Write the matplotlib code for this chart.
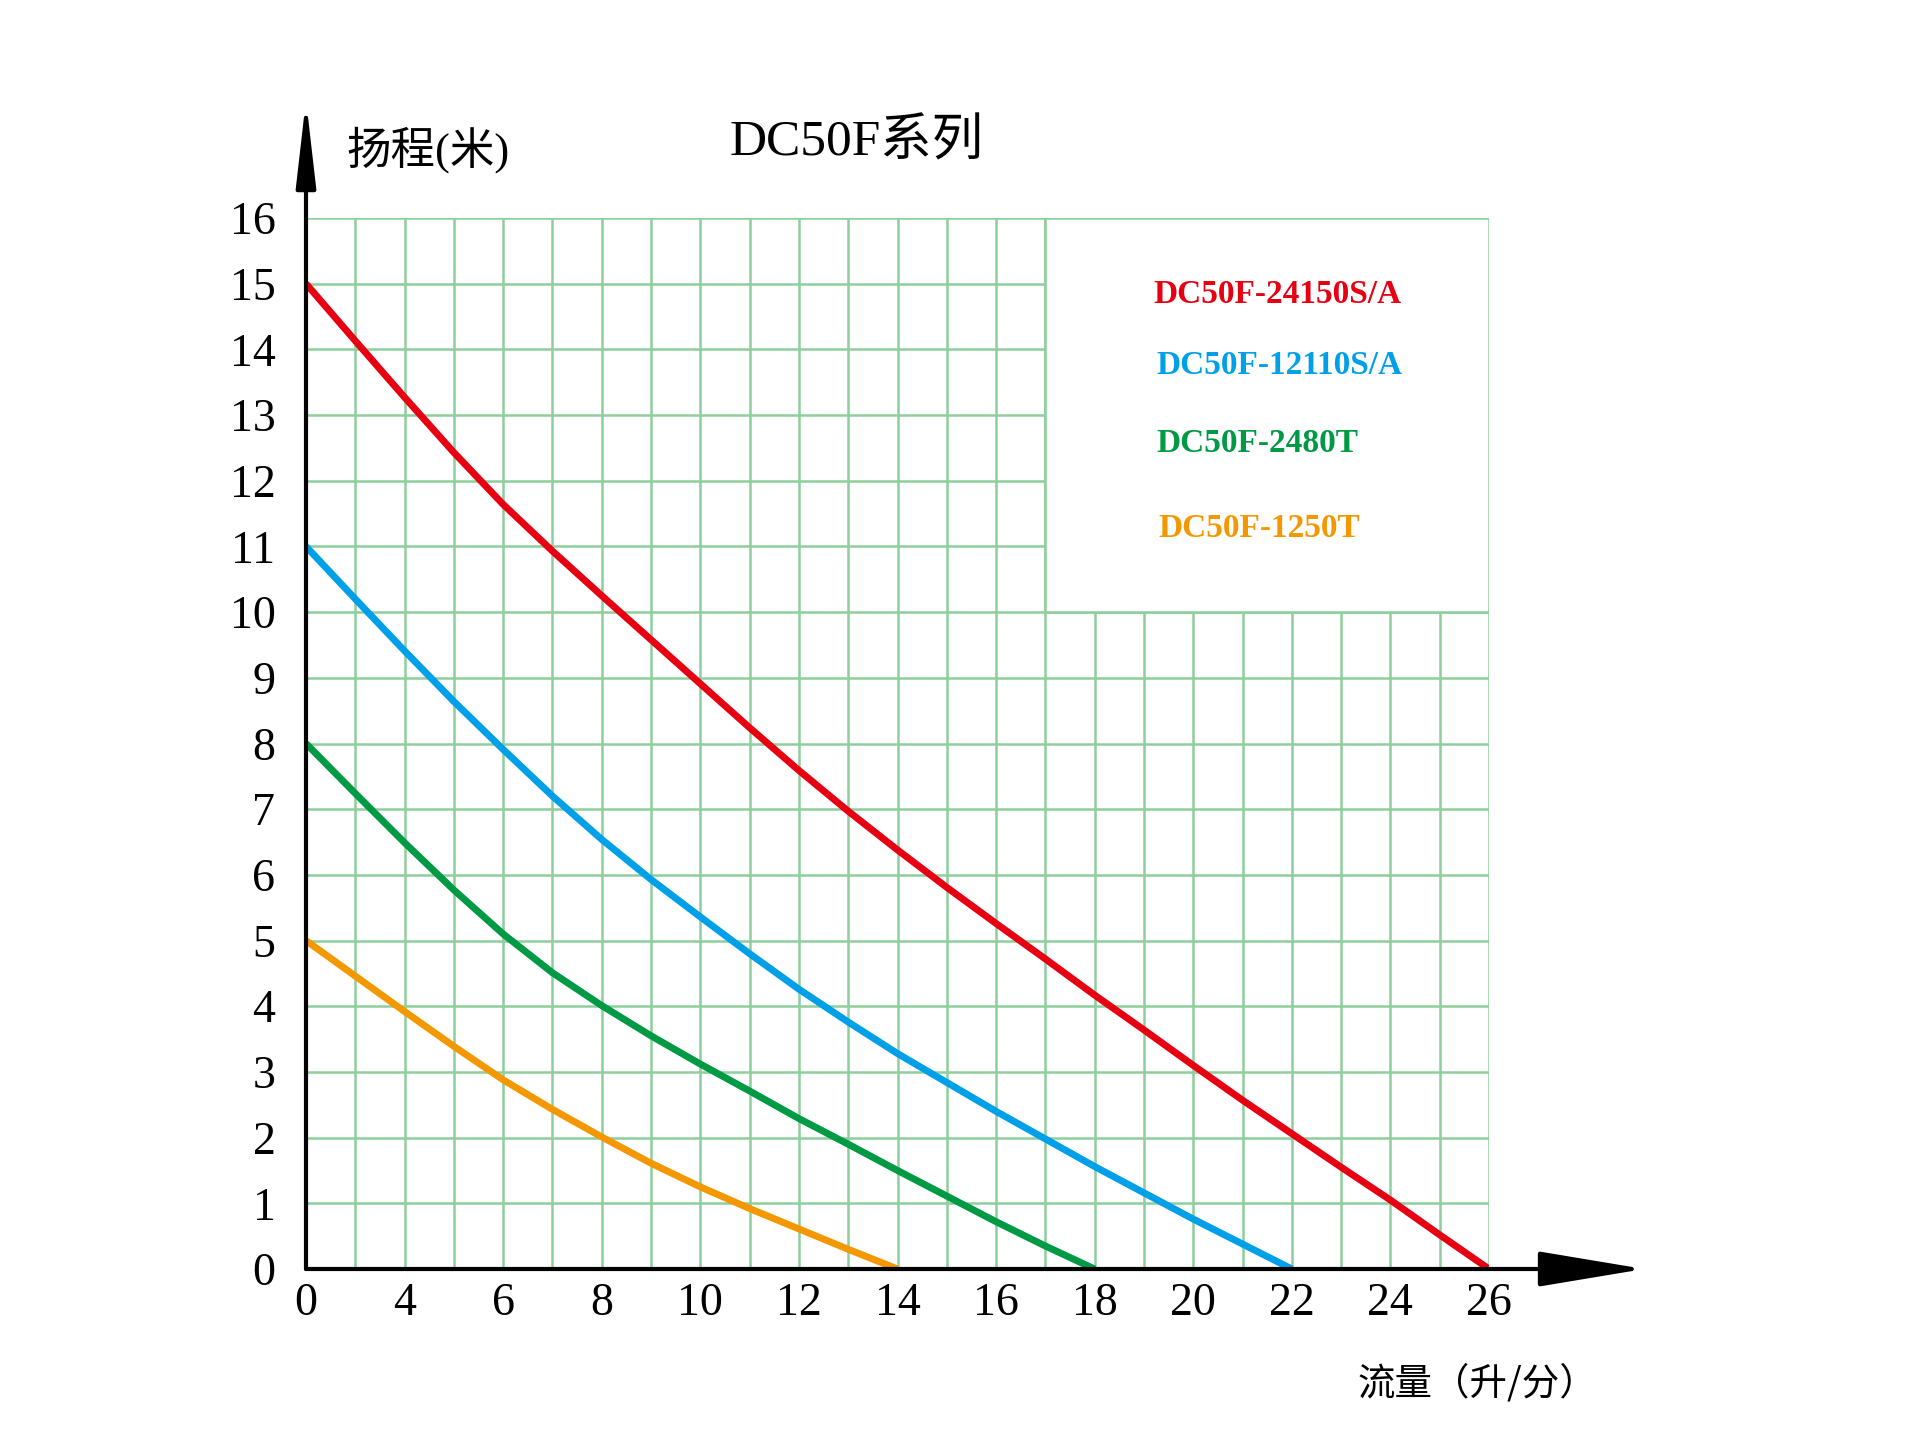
import matplotlib

matplotlib.use("Agg")
import matplotlib.pyplot as plt
from matplotlib.patches import Rectangle

plt.rcParams["font.family"] = ["Liberation Serif", "Noto Sans CJK SC", "DejaVu Sans"]

# The printed flow axis is irregular: the first grid line is labelled "0",
# the next labelled one "4", then every 2 up to 26. Flow values below use
# the printed scale, with the "0" column sitting at position 2.
X_TICKS = [2, 4, 6, 8, 10, 12, 14, 16, 18, 20, 22, 24, 26]
X_TICK_LABELS = ["0", "4", "6", "8", "10", "12", "14", "16", "18", "20", "22", "24", "26"]
Y_TICKS = list(range(0, 17))

SERIES_NAMES = ["DC50F-24150S/A", "DC50F-12110S/A", "DC50F-2480T", "DC50F-1250T"]
SERIES_COLORS = ["#e60012", "#00a0e9", "#009944", "#f39800"]

FLOW_24150 = list(range(2, 27))
HEAD_24150 = [15.0, 14.13, 13.27, 12.43, 11.64, 10.93, 10.25, 9.58, 8.91, 8.24,
              7.59, 6.97, 6.38, 5.81, 5.26, 4.72, 4.17, 3.64, 3.10, 2.57,
              2.06, 1.55, 1.05, 0.52, 0.0]

FLOW_12110 = list(range(2, 23))
HEAD_12110 = [11.0, 10.20, 9.41, 8.64, 7.91, 7.20, 6.54, 5.93, 5.36, 4.80,
              4.26, 3.76, 3.28, 2.84, 2.40, 1.98, 1.56, 1.16, 0.76, 0.38, 0.0]

FLOW_2480 = list(range(2, 19))
HEAD_2480 = [8.0, 7.24, 6.49, 5.77, 5.10, 4.51, 4.01, 3.55, 3.12, 2.71,
             2.29, 1.90, 1.50, 1.11, 0.72, 0.35, 0.0]

FLOW_1250 = list(range(2, 15))
HEAD_1250 = [5.0, 4.46, 3.92, 3.39, 2.88, 2.43, 2.01, 1.61, 1.25, 0.92, 0.61, 0.30, 0.0]

TITLE = "DC50F系列"
Y_LABEL = "扬程(米)"
X_LABEL = "流量（升/分）"

GRID_COLOR = "#8dcf9c"
LEGEND_X = [19.19, 19.25, 19.25, 19.29]
LEGEND_Y = [14.84, 13.75, 12.56, 11.27]

W, H = 1920, 1443
fig = plt.figure(figsize=(W / 100, H / 100), dpi=100)
ax = fig.add_axes([306 / W, 1 - 1269 / H, 1183 / W, 1051 / H])
ax.set_xlim(2, 26)
ax.set_ylim(0, 16)
for side in ax.spines.values():
    side.set_visible(False)

# grid
ax.vlines(range(3, 27), 0, 16, color=GRID_COLOR, lw=1.8, zorder=1)
ax.hlines(range(1, 17), 2, 26, color=GRID_COLOR, lw=1.8, zorder=1)
# blank panel holding the model names
ax.add_patch(Rectangle((17, 10), 9, 6, facecolor="white", edgecolor=GRID_COLOR,
                       lw=1.8, zorder=2))

series = [
    (FLOW_24150, HEAD_24150),
    (FLOW_12110, HEAD_12110),
    (FLOW_2480, HEAD_2480),
    (FLOW_1250, HEAD_1250),
]
for (flow, head), color in zip(series, SERIES_COLORS):
    ax.plot(flow, head, color=color, lw=5.0, solid_capstyle="butt",
            solid_joinstyle="round", zorder=3)

for name, color, lx, ly in zip(SERIES_NAMES, SERIES_COLORS, LEGEND_X, LEGEND_Y):
    ax.text(lx, ly, name, color=color, fontsize=24, fontweight="bold",
            ha="left", va="center", zorder=4)

# axes with arrow heads
ax.annotate("", xy=(2, 17.8), xytext=(2, 0), annotation_clip=False,
            arrowprops=dict(arrowstyle="-|>,head_length=2.6,head_width=0.3",
                            mutation_scale=20, lw=3, color="black",
                            shrinkA=0, shrinkB=0), zorder=5)
ax.annotate("", xy=(29.15, 0), xytext=(2, 0), annotation_clip=False,
            arrowprops=dict(arrowstyle="-|>,head_length=3.3,head_width=0.55",
                            mutation_scale=20, lw=3, color="black",
                            shrinkA=0, shrinkB=0), zorder=5)

ax.set_xticks(X_TICKS)
ax.set_xticklabels(X_TICK_LABELS)
ax.set_yticks(Y_TICKS)
ax.tick_params(axis="both", length=0, labelsize=33)
ax.tick_params(axis="x", pad=10)
ax.tick_params(axis="y", pad=22)

fig.text(857 / W, 1 - 143 / H, TITLE, fontsize=37, ha="center", va="center")
fig.text(346 / W, 1 - 150 / H, Y_LABEL, fontsize=32, ha="left", va="center")
fig.text(1477 / W, 1 - 1384 / H, X_LABEL, fontsize=27, ha="center", va="center",
         family=["Noto Sans CJK SC", "DejaVu Sans"])

fig.savefig("out.png", dpi=100, facecolor="white")
